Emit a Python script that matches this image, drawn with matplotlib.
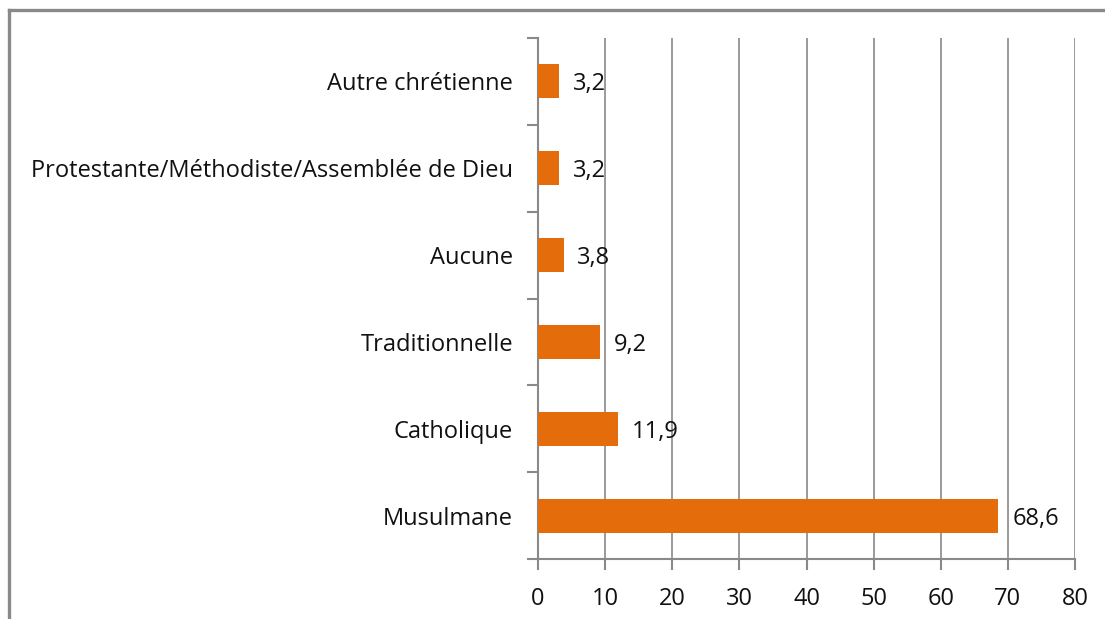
import matplotlib
matplotlib.use("Agg")
import matplotlib.pyplot as plt
from matplotlib.lines import Line2D

categories = ["Musulmane", "Catholique", "Traditionnelle", "Aucune",
              "Protestante/Méthodiste/Assemblée de Dieu", "Autre chrétienne"]
values = [68.6, 11.9, 9.2, 3.8, 3.2, 3.2]
value_labels = ["68,6", "11,9", "9,2", "3,8", "3,2", "3,2"]
xticks = [0, 10, 20, 30, 40, 50, 60, 70, 80]

plt.rcParams['font.family'] = ['Open Sans', 'DejaVu Sans']
FS = 17

fig = plt.figure(figsize=(11.05, 6.19), dpi=100)
ax = fig.add_axes([538/1105, 1 - 559/619, (1075-538)/1105, (559-38)/619])

gray = "#898989"
ypos = list(range(len(categories)))
ax.barh(ypos, values, height=0.39, color="#E46C0A", zorder=3)
for y, v, lab in zip(ypos, values, value_labels):
    ax.annotate(lab, (v, y), xytext=(10, 0), textcoords="offset points",
                va="center_baseline", ha="left", fontsize=FS, color="#111111")

ax.set_xlim(0, 80)
ax.set_ylim(-0.5, len(categories) - 0.5)
ax.set_xticks(xticks)
ax.set_xticklabels([str(t) for t in xticks], fontsize=FS, color="#111111")
ax.set_yticks(ypos)
ax.set_yticklabels(categories, fontsize=FS, color="#111111")
ax.tick_params(axis="y", length=0, pad=18)
ax.set_yticks([i - 0.5 for i in range(len(categories) + 1)], minor=True)
ax.tick_params(axis="y", which="minor", length=8, width=1.5, color=gray)
ax.tick_params(axis="x", length=8, width=1.5, color=gray, pad=12)

ax.xaxis.grid(True, color=gray, linewidth=1.2, zorder=0)
ax.set_axisbelow(True)
for s in ["top", "right"]:
    ax.spines[s].set_visible(False)
for s in ["left", "bottom"]:
    ax.spines[s].set_color(gray)
    ax.spines[s].set_linewidth(1.5)

# figure frame (top and left lines)
fig.add_artist(Line2D([8.5/1105, 1], [1 - 9.5/619, 1 - 9.5/619], transform=fig.transFigure,
                      color=gray, linewidth=2.4))
fig.add_artist(Line2D([8.5/1105, 8.5/1105], [0, 1 - 9.5/619], transform=fig.transFigure,
                      color=gray, linewidth=2.4))

fig.savefig("out.png", dpi=100)
